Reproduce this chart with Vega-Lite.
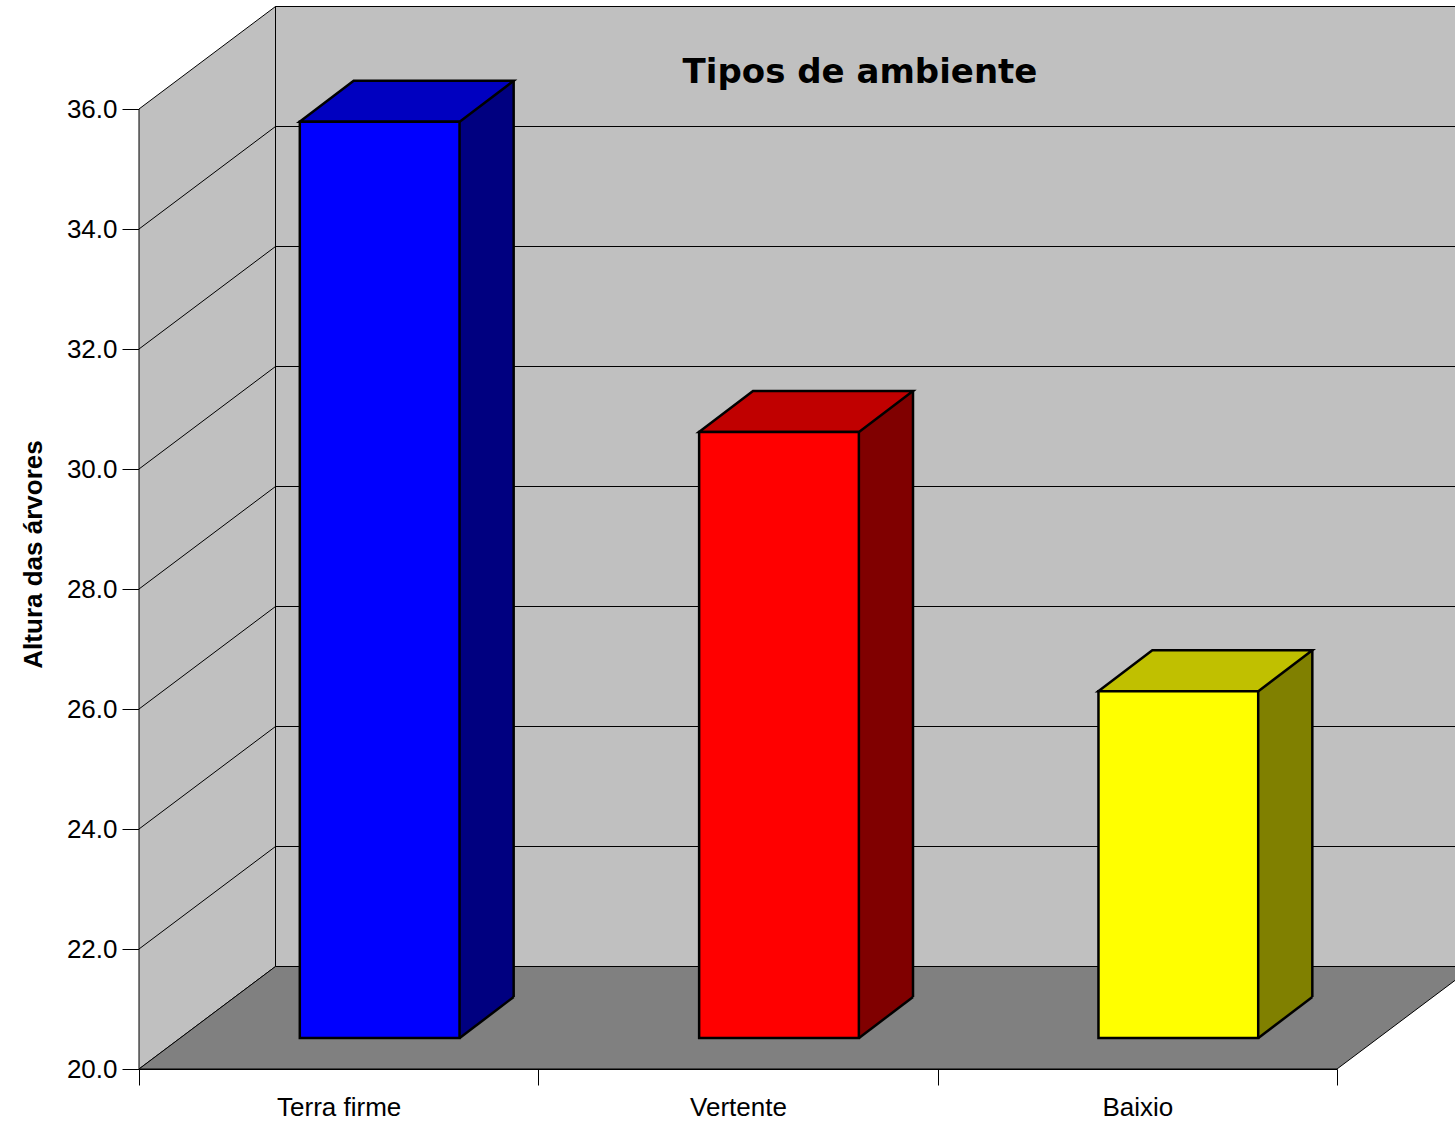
{
  "$schema": "https://vega.github.io/schema/vega-lite/v6.json",
  "width": 1198,
  "height": 960,
  "autosize": {"type": "none"},
  "padding": {"left": 139, "top": 109, "right": 118, "bottom": 53},
  "background": "white",
  "config": {"view": {"stroke": null}},
  "datasets": {
    "ambientes": [
      {"ambiente": "Terra firme", "valor": 35.27},
      {"ambiente": "Vertente", "valor": 30.1},
      {"ambiente": "Baixio", "valor": 25.78}
    ],
    "grade": [{"v": 22}, {"v": 24}, {"v": 26}, {"v": 28}, {"v": 30}, {"v": 32}, {"v": 34}],
    "moldura": [{"parte": "moldura"}]
  },
  "data": {"name": "ambientes"},
  "layer": [
    {
      "data": {"name": "moldura"},
      "mark": {"type": "bar", "fill": "#c0c0c0", "stroke": "#000000", "strokeWidth": 1, "width": {"band": 3}, "xOffset": 136.5, "x2Offset": 136.5, "yOffset": -102.5, "y2Offset": -102.5},
      "encoding": {
        "x": {"datum": "Vertente", "type": "nominal",
          "scale": {"domain": ["Terra firme", "Vertente", "Baixio"], "paddingInner": 0, "paddingOuter": 0},
          "axis": {"title": null, "tickBand": "extent", "labelAngle": 0, "labelFont": "Liberation Sans", "labelFontSize": 26, "labelColor": "#000000", "labelPadding": 9, "tickSize": 16, "tickColor": "#000000", "tickWidth": 1, "domainColor": "#000000", "domainWidth": 1, "grid": false}},
        "y": {"datum": 36, "type": "quantitative",
          "scale": {"domain": [20, 36], "nice": false, "zero": false},
          "axis": {"title": "Altura das árvores", "values": [20, 22, 24, 26, 28, 30, 32, 34, 36], "format": ".1f", "grid": false, "labelFlush": false, "labelOverlap": false, "labelFont": "Liberation Sans", "labelFontSize": 26, "labelColor": "#000000", "labelPadding": 5, "tickSize": 17, "tickColor": "#000000", "domainColor": "#333333", "titleFont": "Liberation Sans", "titleFontSize": 26, "titleFontWeight": "bold", "titleColor": "#000000", "titleAngle": -90, "titleX": -98, "titleY": 445, "titleAlign": "center", "titleBaseline": "alphabetic"}},
        "y2": {"datum": 20}
      }
    },
    {
      "data": {"name": "grade"},
      "mark": {"type": "rule", "color": "#000000", "strokeWidth": 1, "xOffset": 136.5, "x2Offset": 136.5, "yOffset": -102.5},
      "encoding": {
        "x": {"datum": "Terra firme", "type": "nominal", "bandPosition": 0, "scale": {"domain": ["Terra firme", "Vertente", "Baixio"], "paddingInner": 0, "paddingOuter": 0}},
        "x2": {"datum": "Baixio", "bandPosition": 1},
        "y": {"field": "v", "type": "quantitative", "scale": {"domain": [20, 36], "nice": false, "zero": false}}
      }
    },
    {
      "data": {"name": "moldura"},
      "mark": {"type": "point", "shape": "M0,0L0,-960L136.5,-1062.5L136.5,-102.5Z", "size": 4, "filled": true, "fill": "#c0c0c0", "stroke": "#000000", "strokeWidth": 1, "opacity": 1},
      "encoding": {
        "x": {"datum": "Terra firme", "type": "nominal", "bandPosition": 0, "scale": {"domain": ["Terra firme", "Vertente", "Baixio"], "paddingInner": 0, "paddingOuter": 0}},
        "y": {"datum": 20, "type": "quantitative", "scale": {"domain": [20, 36], "nice": false, "zero": false}}
      }
    },
    {
      "data": {"name": "grade"},
      "mark": {"type": "rule", "color": "#000000", "strokeWidth": 1, "x2Offset": 136.5, "y2Offset": -102.5},
      "encoding": {
        "x": {"datum": "Terra firme", "type": "nominal", "bandPosition": 0, "scale": {"domain": ["Terra firme", "Vertente", "Baixio"], "paddingInner": 0, "paddingOuter": 0}},
        "x2": {"datum": "Terra firme", "bandPosition": 0},
        "y": {"field": "v", "type": "quantitative", "scale": {"domain": [20, 36], "nice": false, "zero": false}},
        "y2": {"field": "v"}
      }
    },
    {
      "data": {"name": "moldura"},
      "mark": {"type": "point", "shape": "M0,0L1198,0L1334.5,-102.5L136.5,-102.5Z", "size": 4, "filled": true, "fill": "#808080", "stroke": "#000000", "strokeWidth": 1, "opacity": 1},
      "encoding": {
        "x": {"datum": "Terra firme", "type": "nominal", "bandPosition": 0, "scale": {"domain": ["Terra firme", "Vertente", "Baixio"], "paddingInner": 0, "paddingOuter": 0}},
        "y": {"datum": 20, "type": "quantitative", "scale": {"domain": [20, 36], "nice": false, "zero": false}}
      }
    },
    {
      "mark": {"type": "bar", "width": 54, "xOffset": 148, "x2Offset": 148, "yOffset": -72, "y2Offset": -31, "strokeWidth": 0},
      "encoding": {
        "x": {"field": "ambiente", "type": "nominal", "scale": {"domain": ["Terra firme", "Vertente", "Baixio"], "paddingInner": 0, "paddingOuter": 0}},
        "y": {"field": "valor", "type": "quantitative", "scale": {"domain": [20, 36], "nice": false, "zero": false}},
        "y2": {"datum": 20},
        "color": {"field": "ambiente", "type": "nominal", "scale": {"domain": ["Terra firme", "Vertente", "Baixio"], "range": ["#000080", "#800000", "#808000"]}, "legend": null}
      }
    },
    {
      "mark": {"type": "point", "shape": "M121,-31L175,-72L177.5,-72L177.5,-29.5L121,-29.5Z", "size": 4, "filled": true, "fill": "#808080", "strokeWidth": 0, "opacity": 1},
      "encoding": {
        "x": {"field": "ambiente", "type": "nominal", "scale": {"domain": ["Terra firme", "Vertente", "Baixio"], "paddingInner": 0, "paddingOuter": 0}},
        "y": {"datum": 20, "type": "quantitative", "scale": {"domain": [20, 36], "nice": false, "zero": false}}
      }
    },
    {
      "mark": {"type": "rule", "color": "#000000", "strokeWidth": 2.5, "xOffset": 121, "x2Offset": 175, "yOffset": -31, "y2Offset": -72},
      "encoding": {
        "x": {"field": "ambiente", "type": "nominal", "scale": {"domain": ["Terra firme", "Vertente", "Baixio"], "paddingInner": 0, "paddingOuter": 0}},
        "x2": {"field": "ambiente"},
        "y": {"datum": 20, "type": "quantitative", "scale": {"domain": [20, 36], "nice": false, "zero": false}},
        "y2": {"datum": 20}
      }
    },
    {
      "mark": {"type": "rule", "color": "#000000", "strokeWidth": 2.5, "xOffset": 175, "yOffset": -72, "y2Offset": -72},
      "encoding": {
        "x": {"field": "ambiente", "type": "nominal", "scale": {"domain": ["Terra firme", "Vertente", "Baixio"], "paddingInner": 0, "paddingOuter": 0}},
        "y": {"field": "valor", "type": "quantitative", "scale": {"domain": [20, 36], "nice": false, "zero": false}},
        "y2": {"datum": 20}
      }
    },
    {
      "mark": {"type": "point", "shape": "M-39,-31L121,-31L175,-72L15,-72Z", "size": 4, "filled": true, "stroke": "#000000", "strokeWidth": 2.5, "strokeJoin": "miter", "opacity": 1},
      "encoding": {
        "x": {"field": "ambiente", "type": "nominal", "scale": {"domain": ["Terra firme", "Vertente", "Baixio"], "paddingInner": 0, "paddingOuter": 0}},
        "y": {"field": "valor", "type": "quantitative", "scale": {"domain": [20, 36], "nice": false, "zero": false}},
        "color": {"field": "ambiente", "type": "nominal", "scale": {"domain": ["Terra firme", "Vertente", "Baixio"], "range": ["#0000c0", "#c00000", "#c0c000"]}, "legend": null}
      }
    },
    {
      "mark": {"type": "bar", "width": {"band": 0.4}, "xOffset": 41, "x2Offset": 41, "yOffset": -31, "y2Offset": -31, "stroke": "#000000", "strokeWidth": 2.5},
      "encoding": {
        "x": {"field": "ambiente", "type": "nominal", "scale": {"domain": ["Terra firme", "Vertente", "Baixio"], "paddingInner": 0, "paddingOuter": 0}},
        "y": {"field": "valor", "type": "quantitative", "scale": {"domain": [20, 36], "nice": false, "zero": false}},
        "y2": {"datum": 20},
        "color": {"field": "ambiente", "type": "nominal", "scale": {"domain": ["Terra firme", "Vertente", "Baixio"], "range": ["#0000ff", "#ff0000", "#ffff00"]}, "legend": null}
      }
    },
    {
      "data": {"name": "moldura"},
      "mark": {"type": "text", "text": "Tipos de ambiente", "font": "DejaVu Sans", "fontSize": 34, "fontWeight": "bold", "color": "#000000", "align": "center", "baseline": "alphabetic", "dx": 122, "dy": -26},
      "encoding": {
        "x": {"datum": "Vertente", "type": "nominal", "scale": {"domain": ["Terra firme", "Vertente", "Baixio"], "paddingInner": 0, "paddingOuter": 0}},
        "y": {"datum": 36, "type": "quantitative", "scale": {"domain": [20, 36], "nice": false, "zero": false}}
      }
    }
  ],
  "resolve": {"scale": {"color": "independent"}}
}
